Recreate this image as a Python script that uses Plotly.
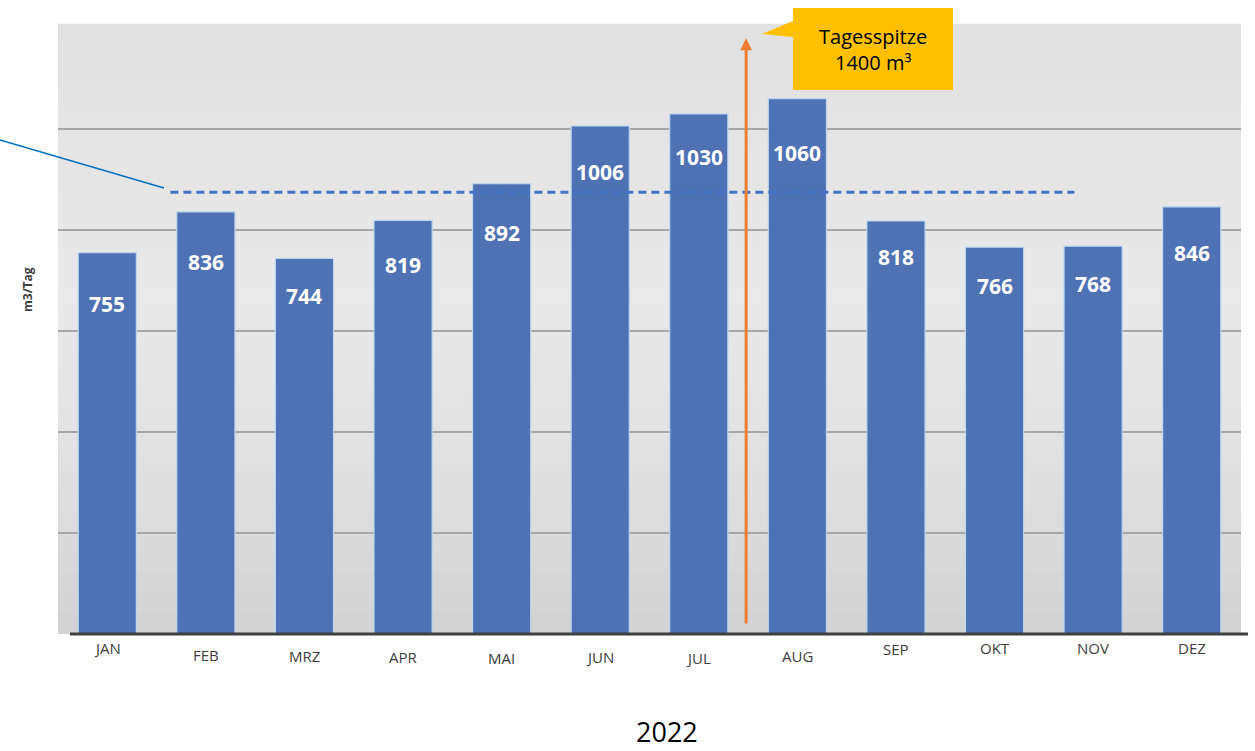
import plotly.graph_objects as go

months = ["JAN", "FEB", "MRZ", "APR", "MAI", "JUN", "JUL", "AUG", "SEP", "OKT", "NOV", "DEZ"]
values = [755, 836, 744, 819, 892, 1006, 1030, 1060, 818, 766, 768, 846]
average_level = 875
peak_label = ["Tagesspitze", "1400 m³"]
year_label = "2022"
y_title = "m3/Tag"

# style: vertical offset (px) of value labels below bar top, tick label offsets
label_drop = [51, 50, 38, 45, 49, 46, 43, 54, 36, 39, 38, 46]
tick_drop = [14, 21, 22, 23, 24, 23, 24, 22, 15, 14, 14, 14]

W, H = 1255, 751
L, R, T, B = 58, 14, 25, 117
PW = W - L - R
PH = H - T - B


def px(x):
    return (x - L) / PW


def py(y):
    return (H - B - y) / PH


BAR = "#4F72B4"
fig = go.Figure()
fig.add_trace(go.Bar(
    x=list(range(len(months))), y=values, width=0.59,
    marker=dict(color=BAR, line=dict(color="#BDD7EE", width=1.2)),
    hoverinfo="skip", showlegend=False,
))

ann = []
for i, (v, d) in enumerate(zip(values, label_drop)):
    ann.append(dict(x=i, y=v, xref="x", yref="y", text=f"<b>{v}</b>", showarrow=False,
                    xanchor="center", yanchor="middle", yshift=-d,
                    font=dict(family="Open Sans", size=21, color="white")))
for i, (m, d) in enumerate(zip(months, tick_drop)):
    ann.append(dict(x=i, y=py(634), xref="x", yref="paper", text=m, showarrow=False,
                    xanchor="center", yanchor="middle", yshift=-d,
                    font=dict(family="Open Sans", size=15, color="#404040")))

# orange peak arrow
ann.append(dict(x=6.48, y=1180, ax=6.48, ay=18, xref="x", yref="y", axref="x", ayref="y",
                text="", showarrow=True, arrowhead=2, arrowsize=0.8, arrowwidth=3, arrowcolor="#ED7D31"))
# callout text
ann.append(dict(x=px(873), y=py(50), xref="paper", yref="paper", text="<br>".join(peak_label),
                showarrow=False, align="center", xanchor="center", yanchor="middle",
                font=dict(family="Open Sans", size=20, color="black")))
ann.append(dict(x=px(27), y=py(290), xref="paper", yref="paper", text=f"<b>{y_title}</b>",
                textangle=-90, showarrow=False, xanchor="center", yanchor="middle",
                font=dict(family="Open Sans", size=12, color="#404040")))
ann.append(dict(x=px(667), y=py(731), xref="paper", yref="paper", text=year_label,
                showarrow=False, xanchor="center", yanchor="middle",
                font=dict(family="Open Sans", size=27, color="black")))

# background gradient bands (style only)
shapes = []
stops = [(0.0, 0xE1), (0.45, 0xE9), (0.7, 0xE2), (1.0, 0xD2)]
nb = 30
for k in range(nb):
    t = (k + 0.5) / nb
    for (t0, c0), (t1, c1) in zip(stops[:-1], stops[1:]):
        if t0 <= t <= t1:
            c = round(c0 + (c1 - c0) * (t - t0) / (t1 - t0))
            break
    col = f"#{c:02X}{c:02X}{c:02X}"
    shapes.append(dict(type="rect", xref="paper", yref="paper", x0=0, x1=1,
                       y0=1 - (k + 1) / nb, y1=1 - k / nb + 0.002,
                       fillcolor=col, line=dict(width=0), layer="below"))

shapes += [
    # average dashed line
    dict(type="line", xref="x", yref="y", x0=0.64, x1=9.81, y0=average_level, y1=average_level,
         line=dict(color="#4472C4", width=3, dash="8px,5px"), layer="above"),
    # connector line to the left
    dict(type="line", xref="paper", yref="paper", x0=px(0), y0=py(140), x1=px(164), y1=py(188),
         line=dict(color="#0070C0", width=1.5)),
    # baseline
    dict(type="line", xref="paper", yref="paper", x0=px(70), y0=py(634), x1=px(1248), y1=py(634),
         line=dict(color="#404040", width=3)),
    # callout box
    dict(type="path", xref="paper", yref="paper",
         path=(f"M {px(793):.5f} {py(8):.5f} L {px(953):.5f} {py(8):.5f} L {px(953):.5f} {py(90):.5f} "
               f"L {px(793):.5f} {py(90):.5f} L {px(793):.5f} {py(37):.5f} L {px(762):.5f} {py(34):.5f} "
               f"L {px(793):.5f} {py(21):.5f} Z"),
         fillcolor="#FFC000", line=dict(width=0), layer="above"),
]

fig.update_layout(
    width=W, height=H,
    margin=dict(l=L, r=R, t=T, b=B),
    paper_bgcolor="white", plot_bgcolor="#DCDCDC",
    bargap=0.41,
    xaxis=dict(range=[-0.5, 11.5], showticklabels=False, showgrid=False, zeroline=False, ticks=""),
    yaxis=dict(range=[0, 1206], tickvals=[200, 400, 600, 800, 1000], showticklabels=False,
               gridcolor="#A6A6A6", gridwidth=2, zeroline=False, ticks=""),
    annotations=ann, shapes=shapes,
)

fig.write_html("out.html", config={"displayModeBar": False},
               post_script="document.body.style.margin='0';")
